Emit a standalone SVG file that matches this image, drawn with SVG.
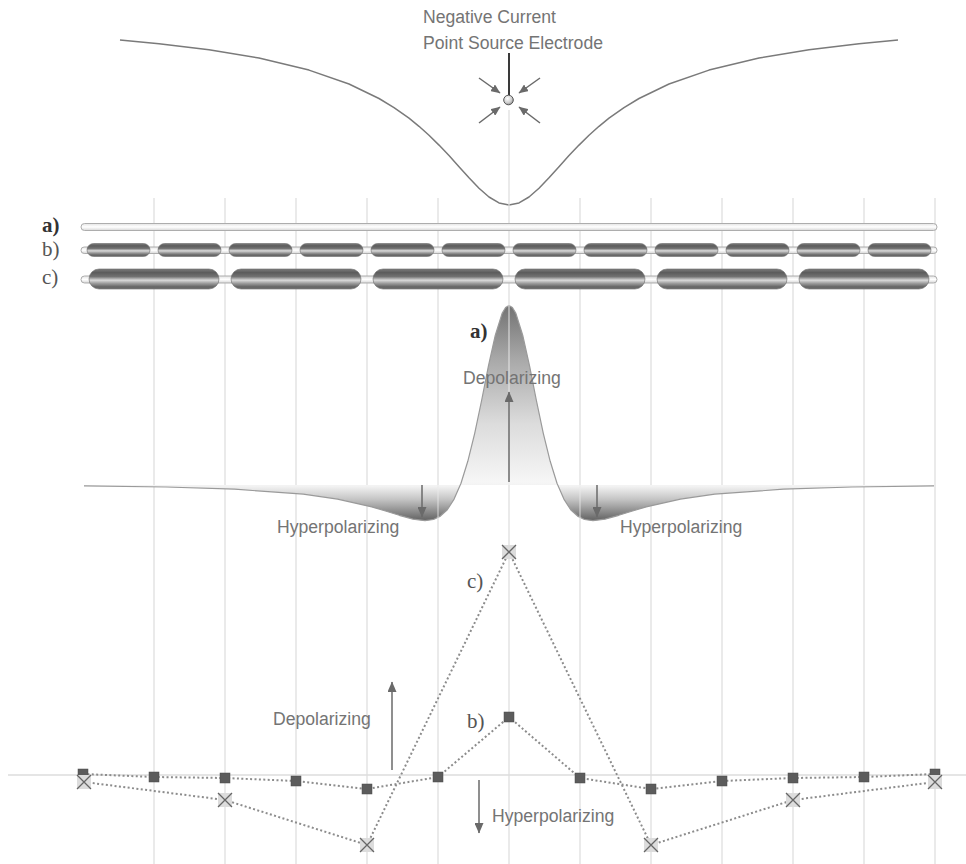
<svg xmlns="http://www.w3.org/2000/svg" width="966" height="864" viewBox="0 0 966 864">
  <style>
    .sans { font-family: "Liberation Sans", Arial, sans-serif; font-size: 17.6px; fill: #747474; }
    .serif { font-family: "Liberation Serif", "Times New Roman", serif; font-size: 21px; fill: #555; }
    .bold { font-weight: bold; fill: #333; }
    .grid { stroke: #dedede; stroke-width: 1.6; opacity: 0.75; }
    .tube { fill: url(#tubeFill); stroke: #adadad; stroke-width: 1; }
    .myelin { fill: url(#myelinFill); stroke: #6a6a6a; stroke-width: 0.6; }
    .arrow { stroke: #6a6a6a; stroke-width: 1.5; fill: none; }
    .dotted { fill: none; stroke: #8c8c8c; stroke-width: 2; stroke-dasharray: 2 2.4; }
    .sq { fill: #5c5c5c; stroke: #4a4a4a; stroke-width: 0.5; }
    .xbox { fill: #dcdcdc; }
    .xline { stroke: #666; stroke-width: 1.3; }
  </style>
  <defs>
    <marker id="headSmall" markerUnits="userSpaceOnUse" markerWidth="10" markerHeight="8" refX="9" refY="4" orient="auto">
      <path d="M0,0 L9.5,4 L0,8 z" fill="#6a6a6a"/>
    </marker>
    <marker id="headBig" markerUnits="userSpaceOnUse" markerWidth="11" markerHeight="9" refX="10" refY="4.5" orient="auto">
      <path d="M0,0 L10.5,4.5 L0,9 z" fill="#6a6a6a"/>
    </marker>
    <linearGradient id="tubeFill" x1="0" y1="0" x2="0" y2="1">
      <stop offset="0" stop-color="#e4e4e4"/>
      <stop offset="0.5" stop-color="#ffffff"/>
      <stop offset="1" stop-color="#d6d6d6"/>
    </linearGradient>
    <linearGradient id="myelinFill" x1="0" y1="0" x2="0" y2="1">
      <stop offset="0" stop-color="#7c7c7c"/>
      <stop offset="0.18" stop-color="#5c5c5c"/>
      <stop offset="0.38" stop-color="#727272"/>
      <stop offset="0.56" stop-color="#dadada"/>
      <stop offset="0.72" stop-color="#9c9c9c"/>
      <stop offset="0.9" stop-color="#626262"/>
      <stop offset="1" stop-color="#7a7a7a"/>
    </linearGradient>
    <radialGradient id="ball" cx="0.4" cy="0.35" r="0.7">
      <stop offset="0" stop-color="#ffffff"/>
      <stop offset="0.6" stop-color="#d0d0d0"/>
      <stop offset="1" stop-color="#8a8a8a"/>
    </radialGradient>
    <linearGradient id="afFill" gradientUnits="userSpaceOnUse" x1="0" y1="305" x2="0" y2="521">
      <stop offset="0" stop-color="#727272"/>
      <stop offset="0.25" stop-color="#a8a8a8"/>
      <stop offset="0.55" stop-color="#dcdcdc"/>
      <stop offset="0.82" stop-color="#f6f6f6"/>
      <stop offset="0.84" stop-color="#f2f2f2"/>
      <stop offset="0.9" stop-color="#c4c4c4"/>
      <stop offset="1" stop-color="#606060"/>
    </linearGradient>
  </defs>

  <rect width="966" height="864" fill="#ffffff"/>

  <!-- extracellular potential along the fibre (1/r profile) -->
  <g id="potential-curve">
    <polyline fill="none" stroke="#7a7a7a" stroke-width="1.5" stroke-linejoin="round" points="120,40 159,43.7 209,49.8 259,58.1 309,70.1 349,84 379,98.5 394,107.6 409,118.2 419,126.3 429,135.3 439,145.1 449,155.6 459,166.7 469,177.8 479,188.3 489,197 499,202.9 509,205 519,202.9 529,197 539,188.3 549,177.8 559,166.7 569,155.6 579,145.1 589,135.3 599,126.3 609,118.2 624,107.6 639,98.5 669,84 709,70.1 759,58.1 809,49.8 859,43.7 898,40"/>
  </g>

  <!-- grid of node positions -->
  <g id="grid">
    <line class="grid" x1="154" y1="198" x2="154" y2="864"/>
    <line class="grid" x1="225" y1="198" x2="225" y2="864"/>
    <line class="grid" x1="296" y1="198" x2="296" y2="864"/>
    <line class="grid" x1="367" y1="198" x2="367" y2="864"/>
    <line class="grid" x1="438" y1="198" x2="438" y2="864"/>
    <line class="grid" x1="509" y1="110" x2="509" y2="864"/>
    <line class="grid" x1="580" y1="198" x2="580" y2="864"/>
    <line class="grid" x1="651" y1="198" x2="651" y2="864"/>
    <line class="grid" x1="722" y1="198" x2="722" y2="864"/>
    <line class="grid" x1="793" y1="198" x2="793" y2="864"/>
    <line class="grid" x1="864" y1="198" x2="864" y2="864"/>
    <line class="grid" x1="935" y1="198" x2="935" y2="864"/>
    <line x1="8" y1="775" x2="966" y2="775" stroke="#dcdcdc" stroke-width="1.5"/>
  </g>

  <!-- electrode -->
  <g id="electrode">
    <text class="sans" x="423" y="22.5">Negative Current</text>
    <text class="sans" x="423" y="48.5">Point Source Electrode</text>
    <line x1="509" y1="53" x2="509" y2="95" stroke="#3a3a3a" stroke-width="2"/>
    <circle cx="508.5" cy="100" r="4.8" fill="url(#ball)" stroke="#555" stroke-width="1"/>
    <line class="arrow" x1="479" y1="78" x2="500" y2="93" marker-end="url(#headSmall)"/>
    <line class="arrow" x1="540" y1="78" x2="519" y2="93" marker-end="url(#headSmall)"/>
    <line class="arrow" x1="479" y1="123" x2="500" y2="107" marker-end="url(#headSmall)"/>
    <line class="arrow" x1="540" y1="123" x2="519" y2="107" marker-end="url(#headSmall)"/>
  </g>

  <!-- fibre a: unmyelinated -->
  <g id="fiber-a">
    <text class="serif bold" x="42" y="232">a)</text>
    <rect class="tube" x="81" y="223.5" width="856" height="7" rx="3.5"/>
  </g>

  <!-- fibre b: myelinated, short internodes -->
  <g id="fiber-b">
    <text class="serif" x="42" y="256">b)</text>
    <rect class="tube" x="81" y="247" width="856" height="6.5" rx="3.2"/>
    <rect class="myelin" x="87" y="243.5" width="63" height="13" rx="6.5"/>
    <rect class="myelin" x="158" y="243.5" width="63" height="13" rx="6.5"/>
    <rect class="myelin" x="229" y="243.5" width="63" height="13" rx="6.5"/>
    <rect class="myelin" x="300" y="243.5" width="63" height="13" rx="6.5"/>
    <rect class="myelin" x="371" y="243.5" width="63" height="13" rx="6.5"/>
    <rect class="myelin" x="442" y="243.5" width="63" height="13" rx="6.5"/>
    <rect class="myelin" x="513" y="243.5" width="63" height="13" rx="6.5"/>
    <rect class="myelin" x="584" y="243.5" width="63" height="13" rx="6.5"/>
    <rect class="myelin" x="655" y="243.5" width="63" height="13" rx="6.5"/>
    <rect class="myelin" x="726" y="243.5" width="63" height="13" rx="6.5"/>
    <rect class="myelin" x="797" y="243.5" width="63" height="13" rx="6.5"/>
    <rect class="myelin" x="868" y="243.5" width="63" height="13" rx="6.5"/>
  </g>

  <!-- fibre c: myelinated, long internodes -->
  <g id="fiber-c">
    <text class="serif" x="42" y="284">c)</text>
    <rect class="tube" x="81" y="276" width="856" height="7" rx="3.5"/>
    <rect class="myelin" x="89" y="269" width="130" height="20" rx="10"/>
    <rect class="myelin" x="231" y="269" width="130" height="20" rx="10"/>
    <rect class="myelin" x="373" y="269" width="130" height="20" rx="10"/>
    <rect class="myelin" x="515" y="269" width="130" height="20" rx="10"/>
    <rect class="myelin" x="657" y="269" width="130" height="20" rx="10"/>
    <rect class="myelin" x="799" y="269" width="130" height="20" rx="10"/>
  </g>

  <!-- activating function, continuous fibre -->
  <g id="activating-function">
    <path id="af-fill" fill="url(#afFill)" stroke="none" d="M84,485.9 L166,487 L234.6,489.2 L303.2,494.1 L337.5,499.1 L371.8,506.9 L385.5,511 L399.2,515.3 L413,519.2 L425,520.7 L433.5,519.5 L440.4,516.1 L447.3,509.7 L454.1,499.1 L461,483.2 L467.8,461.3 L474.7,433.3 L481.6,400.5 L488.4,366.2 L495.3,335.2 L502.1,313.4 L505.6,307.5 L509,305.5 L512.4,307.5 L515.9,313.4 L522.7,335.2 L529.6,366.2 L536.4,400.5 L543.3,433.3 L550.2,461.3 L557,483.2 L563.9,499.1 L570.7,509.7 L577.6,516.1 L584.5,519.5 L593,520.7 L605,519.2 L618.8,515.3 L632.5,511 L646.2,506.9 L680.5,499.1 L714.8,494.1 L783.4,489.2 L852,487 L934,485.9 L934,485 L84,485 Z"/>
    <path fill="none" stroke="#9a9a9a" stroke-width="1.2" stroke-linejoin="round" d="M84,485.9 L166,487 L234.6,489.2 L303.2,494.1 L337.5,499.1 L371.8,506.9 L385.5,511 L399.2,515.3 L413,519.2 L425,520.7 L433.5,519.5 L440.4,516.1 L447.3,509.7 L454.1,499.1 L461,483.2 L467.8,461.3 L474.7,433.3 L481.6,400.5 L488.4,366.2 L495.3,335.2 L502.1,313.4 L505.6,307.5 L509,305.5 L512.4,307.5 L515.9,313.4 L522.7,335.2 L529.6,366.2 L536.4,400.5 L543.3,433.3 L550.2,461.3 L557,483.2 L563.9,499.1 L570.7,509.7 L577.6,516.1 L584.5,519.5 L593,520.7 L605,519.2 L618.8,515.3 L632.5,511 L646.2,506.9 L680.5,499.1 L714.8,494.1 L783.4,489.2 L852,487 L934,485.9"/>
    <line x1="509" y1="305" x2="509" y2="485" stroke="#ececec" stroke-width="1.6" opacity="0.6"/>
    <line x1="438" y1="485" x2="438" y2="520" stroke="#ececec" stroke-width="1.6" opacity="0.5"/>
    <line x1="580" y1="485" x2="580" y2="520" stroke="#ececec" stroke-width="1.6" opacity="0.5"/>
    <text class="serif bold" x="470" y="338">a)</text>
    <text class="sans" x="463" y="383.5">Depolarizing</text>
    <line class="arrow" x1="509" y1="482" x2="509" y2="392" marker-end="url(#headBig)"/>
    <line class="arrow" x1="422" y1="485" x2="422" y2="517" marker-end="url(#headBig)"/>
    <line class="arrow" x1="597" y1="485" x2="597" y2="517" marker-end="url(#headBig)"/>
    <text class="sans" x="277" y="533">Hyperpolarizing</text>
    <text class="sans" x="620" y="533">Hyperpolarizing</text>
  </g>

  <!-- activating function sampled at nodes of Ranvier -->
  <g id="node-samples">
    <text class="sans" x="273" y="725">Depolarizing</text>
    <line class="arrow" x1="392" y1="770" x2="392" y2="682" marker-end="url(#headBig)"/>
    <text class="sans" x="492" y="822">Hyperpolarizing</text>
    <line class="arrow" x1="479" y1="780" x2="479" y2="833" marker-end="url(#headBig)"/>
    <text class="serif" x="467" y="728">b)</text>
    <text class="serif" x="467" y="588">c)</text>

    <g id="series-b">
      <polyline class="dotted" points="83,774 154,777 225,778 296,781 367,789 438,777 509,717 580,778 651,789 722,781 793,778 864,777 935,774"/>
      <rect class="sq" x="78" y="769" width="10" height="10"/>
      <rect class="sq" x="149" y="772" width="10" height="10"/>
      <rect class="sq" x="220" y="773" width="10" height="10"/>
      <rect class="sq" x="291" y="776" width="10" height="10"/>
      <rect class="sq" x="362" y="784" width="10" height="10"/>
      <rect class="sq" x="433" y="772" width="10" height="10"/>
      <rect class="sq" x="504" y="712" width="10" height="10"/>
      <rect class="sq" x="575" y="773" width="10" height="10"/>
      <rect class="sq" x="646" y="784" width="10" height="10"/>
      <rect class="sq" x="717" y="776" width="10" height="10"/>
      <rect class="sq" x="788" y="773" width="10" height="10"/>
      <rect class="sq" x="859" y="772" width="10" height="10"/>
      <rect class="sq" x="930" y="769" width="10" height="10"/>
    </g>

    <g id="series-c">
      <polyline class="dotted" points="84,782 225,800 367,845 509,552 651,845 793,800 935,782"/>
      <g transform="translate(84,782)"><rect class="xbox" x="-7" y="-7" width="14" height="14"/><path class="xline" d="M-7,-7 L7,7 M7,-7 L-7,7"/></g>
      <g transform="translate(225,800)"><rect class="xbox" x="-7" y="-7" width="14" height="14"/><path class="xline" d="M-7,-7 L7,7 M7,-7 L-7,7"/></g>
      <g transform="translate(367,845)"><rect class="xbox" x="-7" y="-7" width="14" height="14"/><path class="xline" d="M-7,-7 L7,7 M7,-7 L-7,7"/></g>
      <g transform="translate(509,552)"><rect class="xbox" x="-7" y="-7" width="14" height="14"/><path class="xline" d="M-7,-7 L7,7 M7,-7 L-7,7"/></g>
      <g transform="translate(651,845)"><rect class="xbox" x="-7" y="-7" width="14" height="14"/><path class="xline" d="M-7,-7 L7,7 M7,-7 L-7,7"/></g>
      <g transform="translate(793,800)"><rect class="xbox" x="-7" y="-7" width="14" height="14"/><path class="xline" d="M-7,-7 L7,7 M7,-7 L-7,7"/></g>
      <g transform="translate(935,782)"><rect class="xbox" x="-7" y="-7" width="14" height="14"/><path class="xline" d="M-7,-7 L7,7 M7,-7 L-7,7"/></g>
    </g>
  </g>
</svg>
